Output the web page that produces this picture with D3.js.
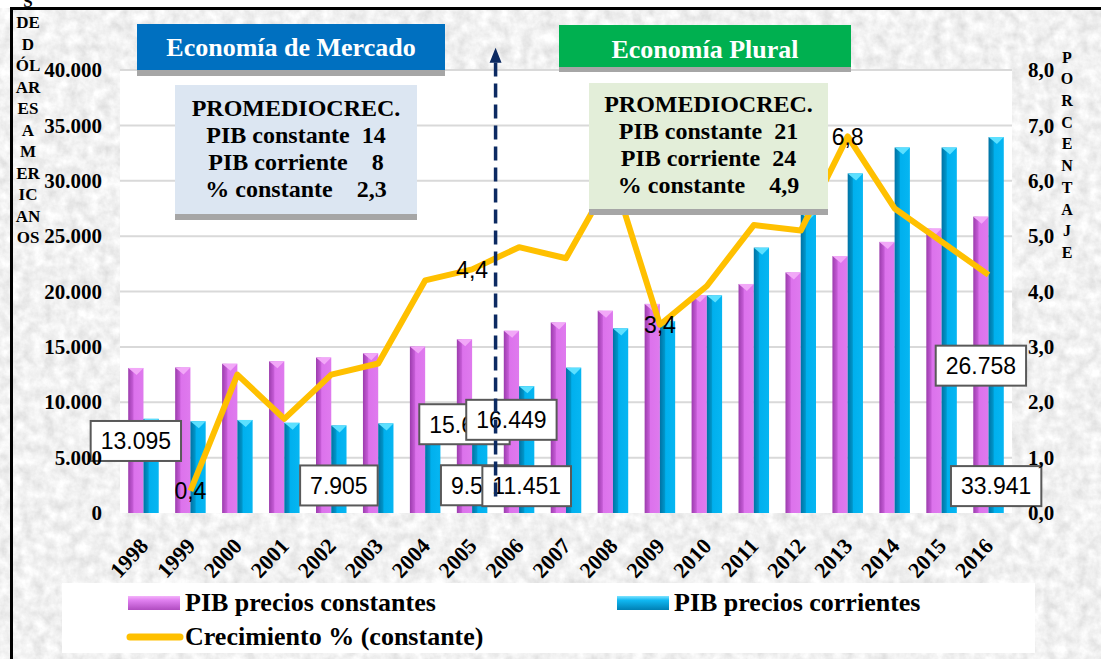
<!DOCTYPE html>
<html>
<head>
<meta charset="utf-8">
<script src="https://cdnjs.cloudflare.com/ajax/libs/d3/7.8.5/d3.min.js"></script>
<style>
	body { margin: 0; background: #ffffff; }
	svg { display: block; }
	.text_class_serif { font-family: "Liberation Serif", "Times New Roman", serif; font-weight: bold; fill: #000000; }
	.text_class_label { font-family: "Liberation Sans", Arial, sans-serif; fill: #000000; }
</style>
</head>
<body>
<div id="div_id_main"></div>
<script>

// ---------------------------------------------------------------
// datos

var vsYears = ["1998", "1999", "2000", "2001", "2002", "2003", "2004", "2005", "2006", "2007",
			   "2008", "2009", "2010", "2011", "2012", "2013", "2014", "2015", "2016"];

var vnPIB_Constantes = [13095, 13145, 13475, 13700, 14040, 14420, 15030, 15690, 16449, 17200,
						18260, 18880, 19660, 20680, 21720, 23200, 24480, 25680, 26758];

var vnPIB_Corrientes = [8500, 8280, 8400, 8140, 7905, 8090, 8780, 9549, 11451, 13120,
						16670, 17340, 19650, 23960, 27080, 30660, 33000, 33000, 33941];

var vnCrecimiento = [null, 0.4, 2.5, 1.7, 2.5, 2.7, 4.2, 4.4, 4.8, 4.6,
					 6.1, 3.4, 4.1, 5.2, 5.1, 6.8, 5.5, 4.9, 4.3];

var vnTicks_Left = [0, 5000, 10000, 15000, 20000, 25000, 30000, 35000, 40000];
var vnTicks_Right = [0, 1, 2, 3, 4, 5, 6, 7, 8];

var vsTitle_Left = ["S", "DE", "D", "ÓL", "AR", "ES", "A", "M", "ER", "IC", "AN", "OS"];
var vsTitle_Right = ["P", "O", "R", "C", "E", "N", "T", "A", "J", "E"];

var vsSeries = ["PIB precios constantes", "PIB precios corrientes", "Crecimiento % (constante)"];

var vsPromedio_Mercado = ["PROMEDIOCREC.", "PIB constante  14", "PIB corriente    8", "% constante    2,3"];
var vsPromedio_Plural = ["PROMEDIOCREC.", "PIB constante  21", "PIB corriente  24", "% constante    4,9"];

// etiquetas de datos visibles (serie, anio)
var vBarLabels = [
	{"series": 0, "year": "1998", "dy": 73},
	{"series": 0, "year": "2005", "dy": 85},
	{"series": 0, "year": "2006", "dy": 89},
	{"series": 0, "year": "2016", "dy": 149},
	{"series": 1, "year": "2002", "dy": 60},
	{"series": 1, "year": "2005", "dy": 78},
	{"series": 1, "year": "2006", "dy": 100},
	{"series": 1, "year": "2016", "dy": 349}
];

var vsLineLabels = ["1999", "2005", "2009", "2013"];

// ---------------------------------------------------------------

var WIDTH = 1101;
var HEIGHT = 659;

var PLOT_LEFT = 120;
var PLOT_RIGHT = 1012;
var PLOT_TOP = 70;
var PLOT_BOTTOM = 513;

var COLOR_LINE = "#ffc000";

var fmtLocale = d3.formatLocale({"decimal": ",", "thousands": ".", "grouping": [3], "currency": ["", ""]});
var formatNum = fmtLocale.format(",");
var formatPct = fmtLocale.format(".1f");

var fScale_X0 = d3.scaleBand()
					.domain(vsYears)
					.range([PLOT_LEFT, PLOT_RIGHT])
					.paddingInner(0.35)
					.paddingOuter(0.175);

var fScale_X1 = d3.scaleBand()
					.domain([0, 1])
					.range([0, fScale_X0.bandwidth()]);

var fScale_Left = d3.scaleLinear()
					.domain([0, 40000])
					.range([PLOT_BOTTOM, PLOT_TOP]);

var fScale_Right = d3.scaleLinear()
					.domain([0, 8])
					.range([PLOT_BOTTOM, PLOT_TOP]);

function funcCenter(sYear) {
	return fScale_X0(sYear) + fScale_X0.bandwidth() / 2;
}

function funcBarCenter(nSeries, sYear) {
	return fScale_X0(sYear) + fScale_X1(nSeries) + fScale_X1.bandwidth() / 2;
}

function funcBarValue(nSeries, sYear) {
	let i = vsYears.indexOf(sYear);
	return (nSeries == 0) ? vnPIB_Constantes[i] : vnPIB_Corrientes[i];
}

// ---------------------------------------------------------------

function funcDraw_Main() {

	let svgMain = d3.select("#div_id_main")
					.append("svg")
						.attr("width", WIDTH)
						.attr("height", HEIGHT);

	funcDraw_Defs(svgMain);

	// fondo
	svgMain.append("rect")
				.attr("x", 0).attr("y", 8)
				.attr("width", WIDTH).attr("height", HEIGHT - 8)
				.attr("fill", "#dadada")
				.attr("filter", "url(#filter_id_texture)");

	svgMain.append("rect")
				.attr("x", PLOT_LEFT).attr("y", PLOT_TOP)
				.attr("width", PLOT_RIGHT - PLOT_LEFT).attr("height", PLOT_BOTTOM - PLOT_TOP)
				.attr("fill", "#ffffff");

	funcDraw_Grid(svgMain);
	funcDraw_Bars(svgMain);
	funcDraw_Line(svgMain);
	funcDraw_BarLabels(svgMain);
	funcDraw_Arrow(svgMain);
	funcDraw_Boxes(svgMain);
	funcDraw_Axes(svgMain);
	funcDraw_Legend(svgMain);

	// borde
	svgMain.append("rect")
				.attr("x", 10).attr("y", 7)
				.attr("width", WIDTH - 10).attr("height", 3)
				.attr("fill", "#000000");

	svgMain.append("rect")
				.attr("x", 10).attr("y", 7)
				.attr("width", 3).attr("height", HEIGHT - 7)
				.attr("fill", "#000000");

	funcDraw_AxisTitles(svgMain);
}

function funcDraw_Defs(svgMain) {

	let defs = svgMain.append("defs");

	let filter = defs.append("filter")
						.attr("id", "filter_id_texture")
						.attr("x", 0).attr("y", 0)
						.attr("width", 1).attr("height", 1);

	filter.append("feTurbulence")
				.attr("type", "fractalNoise")
				.attr("baseFrequency", "0.09")
				.attr("numOctaves", 4)
				.attr("seed", 3)
				.attr("result", "noise");

	filter.append("feColorMatrix")
				.attr("in", "noise")
				.attr("type", "matrix")
				.attr("values", "0.4 0 0 0 0.68  0.4 0 0 0 0.68  0.4 0 0 0 0.68  0 0 0 0 1");

	let vGradients = [
		{"id": "grad_id_pink", "stops": [["0%", "#9c3cad"], ["30%", "#c35ad4"], ["38%", "#dc72ec"], ["100%", "#df7aee"]]},
		{"id": "grad_id_blue", "stops": [["0%", "#0072a4"], ["30%", "#0094c8"], ["38%", "#00b0ee"], ["100%", "#06b6f2"]]}
	];

	vGradients.forEach(function (g) {

		let grad = defs.append("linearGradient")
							.attr("id", g.id)
							.attr("x1", "0").attr("x2", "1")
							.attr("y1", "0").attr("y2", "0");

		g.stops.forEach(function (s) {
			grad.append("stop").attr("offset", s[0]).attr("stop-color", s[1]);
		});
	});

	let vGradients_V = [
		{"id": "grad_id_pink_v", "stops": [["0%", "#f4b4fa"], ["30%", "#e080f0"], ["100%", "#b04cc0"]]},
		{"id": "grad_id_blue_v", "stops": [["0%", "#80e4ff"], ["30%", "#10b8f2"], ["100%", "#0080b4"]]}
	];

	vGradients_V.forEach(function (g) {

		let grad = defs.append("linearGradient")
							.attr("id", g.id)
							.attr("x1", "0").attr("x2", "0")
							.attr("y1", "0").attr("y2", "1");

		g.stops.forEach(function (s) {
			grad.append("stop").attr("offset", s[0]).attr("stop-color", s[1]);
		});
	});
}

function funcDraw_Grid(svgMain) {

	svgMain.append("g")
			.selectAll("line")
			.data(vnTicks_Left.slice(1))
			.enter()
			.append("line")
				.attr("x1", PLOT_LEFT)
				.attr("x2", PLOT_RIGHT)
				.attr("y1", function (d) { return fScale_Left(d); })
				.attr("y2", function (d) { return fScale_Left(d); })
				.attr("stroke", "#d9d9d9")
				.attr("stroke-width", 2);
}

function funcDraw_Bars(svgMain) {

	let dsBars = [];

	for (let i = 0; i < vsYears.length; i++) {

		dsBars.push({"series": 0, "year": vsYears[i], "value": vnPIB_Constantes[i]});
		dsBars.push({"series": 1, "year": vsYears[i], "value": vnPIB_Corrientes[i]});
	}

	let w = fScale_X1.bandwidth();

	let gBars = svgMain.append("g");

	gBars.selectAll("rect.rect_class_bar")
			.data(dsBars)
			.enter()
			.append("rect")
				.attr("class", "rect_class_bar")
				.attr("x", function (d) { return fScale_X0(d.year) + fScale_X1(d.series); })
				.attr("y", function (d) { return fScale_Left(d.value); })
				.attr("width", w)
				.attr("height", function (d) { return PLOT_BOTTOM - fScale_Left(d.value); })
				.attr("fill", function (d) { return (d.series == 0) ? "url(#grad_id_pink)" : "url(#grad_id_blue)"; });

	// tapa superior
	gBars.selectAll("path.path_class_cap")
			.data(dsBars)
			.enter()
			.append("path")
				.attr("class", "path_class_cap")
				.attr("d", function (d) {
					let x = fScale_X0(d.year) + fScale_X1(d.series);
					let y = fScale_Left(d.value);
					return "M" + x + "," + y + "L" + (x + w) + "," + y + "L" + (x + w * 0.55) + "," + (y + 7) + "Z";
				})
				.attr("fill", function (d) { return (d.series == 0) ? "#f2a8f8" : "#5ce0ff"; });
}

function funcDraw_Line(svgMain) {

	let dsLine = vsYears.map(function (s, i) { return {"year": s, "value": vnCrecimiento[i]}; });

	let line = d3.line()
					.defined(function (d) { return d.value != null; })
					.x(function (d) { return funcCenter(d.year); })
					.y(function (d) { return fScale_Right(d.value); });

	svgMain.append("path")
				.datum(dsLine)
				.attr("d", line)
				.attr("fill", "none")
				.attr("stroke", COLOR_LINE)
				.attr("stroke-width", 6)
				.attr("stroke-linejoin", "round");

	svgMain.append("g")
			.selectAll("text")
			.data(dsLine.filter(function (d) { return vsLineLabels.indexOf(d.year) >= 0; }))
			.enter()
			.append("text")
				.attr("class", "text_class_label")
				.attr("x", function (d) { return funcCenter(d.year); })
				.attr("y", function (d) { return fScale_Right(d.value); })
				.attr("dy", "0.36em")
				.attr("text-anchor", "middle")
				.style("font-size", "23px")
				.text(function (d) { return formatPct(d.value); });
}

function funcDraw_BarLabels(svgMain) {

	vBarLabels.forEach(function (lab) {

		let v = funcBarValue(lab.series, lab.year);
		let cx = funcBarCenter(lab.series, lab.year);
		let cy = fScale_Left(v) + lab.dy;

		let g = svgMain.append("g");

		let rect = g.append("rect")
						.attr("fill", "#ffffff")
						.attr("stroke", "#595959")
						.attr("stroke-width", 2);

		let txt = g.append("text")
						.attr("class", "text_class_label")
						.attr("x", cx)
						.attr("y", cy)
						.attr("dy", "0.36em")
						.attr("text-anchor", "middle")
						.style("font-size", "23px")
						.text(formatNum(v));

		let bw = txt.node().getComputedTextLength() + 20;

		rect.attr("x", cx - bw / 2)
			.attr("y", cy - 20)
			.attr("width", bw)
			.attr("height", 40);
	});
}

function funcDraw_Arrow(svgMain) {

	let xB = (funcCenter("2005") + funcCenter("2006")) / 2;
	let yTip = fScale_Left(42000);

	svgMain.append("line")
				.attr("x1", xB).attr("x2", xB)
				.attr("y1", fScale_Left(1500))
				.attr("y2", yTip + 12)
				.attr("stroke", "#0c2a62")
				.attr("stroke-width", 3.5)
				.attr("stroke-dasharray", "14,7");

	svgMain.append("path")
				.attr("d", "M" + xB + "," + yTip + "L" + (xB + 6) + "," + (yTip + 15) + "L" + (xB - 6) + "," + (yTip + 15) + "Z")
				.attr("fill", "#0c2a62");
}

function funcDraw_TextBox(svgMain, box) {

	svgMain.append("rect")
				.attr("x", box.x).attr("y", box.y + box.shadow)
				.attr("width", box.w).attr("height", box.h)
				.attr("fill", "#a6a6a6");

	svgMain.append("rect")
				.attr("x", box.x).attr("y", box.y)
				.attr("width", box.w).attr("height", box.h)
				.attr("fill", box.fill);

	svgMain.append("g")
			.selectAll("text")
			.data(box.lines)
			.enter()
			.append("text")
				.attr("class", "text_class_serif")
				.attr("x", box.x + box.w / 2)
				.attr("y", function (d, i) { return box.base + i * box.lh; })
				.attr("text-anchor", "middle")
				.attr("xml:space", "preserve")
				.style("white-space", "pre")
				.style("font-size", box.size + "px")
				.style("fill", box.color)
				.text(function (d) { return d; });
}

function funcDraw_Boxes(svgMain) {

	funcDraw_TextBox(svgMain, {"x": 175, "y": 85, "w": 242, "h": 129, "shadow": 6, "fill": "#dce6f2",
							   "lines": vsPromedio_Mercado, "base": 116, "lh": 27, "size": 24, "color": "#000000"});

	funcDraw_TextBox(svgMain, {"x": 589, "y": 83, "w": 239, "h": 126, "shadow": 6, "fill": "#e3eed9",
							   "lines": vsPromedio_Plural, "base": 112, "lh": 27, "size": 24, "color": "#000000"});

	funcDraw_TextBox(svgMain, {"x": 137, "y": 24, "w": 308, "h": 46, "shadow": 6, "fill": "#0070c0",
							   "lines": ["Economía de Mercado"], "base": 56, "lh": 0, "size": 26, "color": "#ffffff"});

	funcDraw_TextBox(svgMain, {"x": 559, "y": 25, "w": 292, "h": 42, "shadow": 5, "fill": "#00b050",
							   "lines": ["Economía Plural"], "base": 58, "lh": 0, "size": 26, "color": "#ffffff"});
}

function funcDraw_Axes(svgMain) {

	let axisLeft = d3.axisLeft(fScale_Left)
						.tickValues(vnTicks_Left)
						.tickSize(0)
						.tickPadding(0)
						.tickFormat(formatNum);

	let gLeft = svgMain.append("g")
						.attr("transform", "translate(102,0)")
						.call(axisLeft);

	let axisRight = d3.axisRight(fScale_Right)
						.tickValues(vnTicks_Right)
						.tickSize(0)
						.tickPadding(0)
						.tickFormat(formatPct);

	let gRight = svgMain.append("g")
						.attr("transform", "translate(1028,0)")
						.call(axisRight);

	let axisBottom = d3.axisBottom(fScale_X0)
						.tickSize(0)
						.tickPadding(0);

	let gBottom = svgMain.append("g")
						.attr("transform", "translate(0,547)")
						.call(axisBottom);

	[gLeft, gRight, gBottom].forEach(function (g) {

		g.select(".domain").remove();

		g.selectAll("text")
			.attr("class", "text_class_serif")
			.attr("fill", "#000000")
			.style("font-size", "21px");
	});

	gBottom.selectAll("text")
			.attr("y", 0)
			.attr("dy", 0)
			.attr("text-anchor", "end")
			.style("font-size", "22px")
			.attr("transform", "translate(6,0) rotate(-47)");
}

function funcDraw_AxisTitles(svgMain) {

	svgMain.append("g")
			.selectAll("text")
			.data(vsTitle_Left)
			.enter()
			.append("text")
				.attr("class", "text_class_serif")
				.attr("x", 28)
				.attr("y", function (d, i) { return 1 + i * 21.5; })
				.attr("dy", "0.35em")
				.attr("text-anchor", "middle")
				.style("font-size", "17px")
				.text(function (d) { return d; });

	svgMain.append("g")
			.selectAll("text")
			.data(vsTitle_Right)
			.enter()
			.append("text")
				.attr("class", "text_class_serif")
				.attr("x", 1067)
				.attr("y", function (d, i) { return 57 + i * 21.7; })
				.attr("dy", "0.35em")
				.attr("text-anchor", "middle")
				.style("font-size", "16px")
				.text(function (d) { return d; });
}

function funcDraw_Legend(svgMain) {

	svgMain.append("rect")
				.attr("x", 62).attr("y", 583)
				.attr("width", 973).attr("height", 70)
				.attr("fill", "#ffffff");

	let vItems = [
		{"x": 128, "y": 603, "type": "bar", "fill": "url(#grad_id_pink_v)"},
		{"x": 617, "y": 603, "type": "bar", "fill": "url(#grad_id_blue_v)"},
		{"x": 128, "y": 637, "type": "line", "fill": COLOR_LINE}
	];

	vItems.forEach(function (item, i) {

		if (item.type == "bar") {

			svgMain.append("rect")
						.attr("x", item.x).attr("y", item.y - 7)
						.attr("width", 52).attr("height", 14)
						.attr("fill", item.fill);
		} else {

			svgMain.append("line")
						.attr("x1", item.x + 2).attr("x2", item.x + 52)
						.attr("y1", item.y).attr("y2", item.y)
						.attr("stroke", item.fill)
						.attr("stroke-width", 7)
						.attr("stroke-linecap", "round");
		}

		svgMain.append("text")
					.attr("class", "text_class_serif")
					.attr("x", item.x + 57)
					.attr("y", item.y + 8)
					.style("font-size", "26px")
					.text(vsSeries[i]);
	});
}

funcDraw_Main();

</script>
</body>
</html>
